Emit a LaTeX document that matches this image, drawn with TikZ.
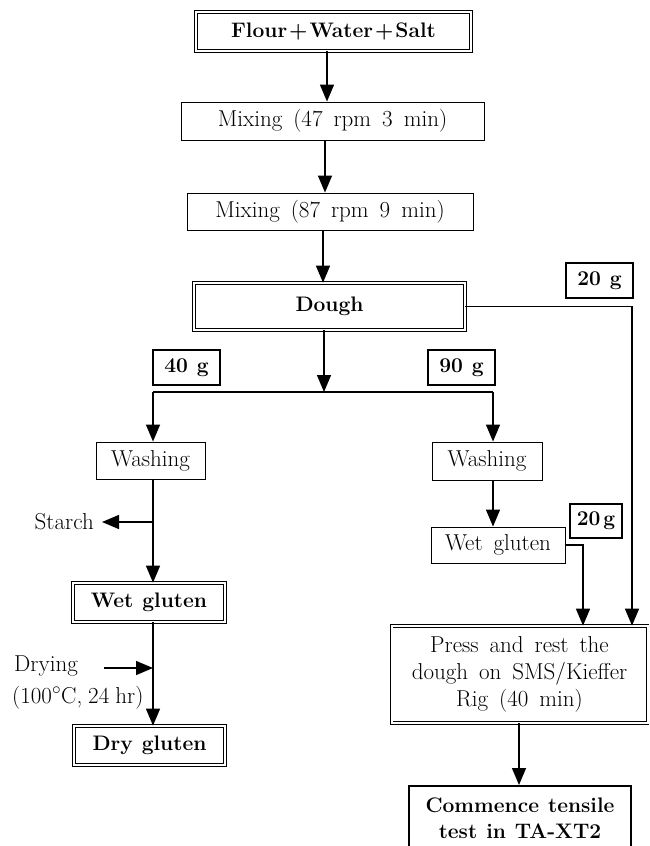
\documentclass[tikz,border=0pt]{standalone}
\usepackage{fontspec}
\usetikzlibrary{arrows.meta,calc}
\newcommand\bigtxt{\fontsize{23}{27}\selectfont}
\newcommand\bftxt{\fontsize{21}{26}\selectfont\bfseries}
\begin{document}
\begin{tikzpicture}[x=1pt,y=-1pt,
  base/.style={font={\bigtxt\spaceskip=11pt plus 2pt\relax}, inner sep=0pt, align=center},
  bf/.style={font={\bftxt\spaceskip=9pt plus 2pt\relax}},
  box/.style={base, draw, line width=0.9pt},
  dbox/.style={base, draw, double, double distance=2pt, line width=0.7pt},
  gbox/.style={base, bf, draw, line width=1.3pt},
  arr/.style={line width=1.4pt, -{Triangle[width=14pt,length=17pt]}},
  ln/.style={line width=1.4pt}
]
\useasboundingbox (0,0) rectangle (650,846);

% nodes
\node[dbox, bf, minimum width=275pt, minimum height=39pt] (flour) at (333.5,31.5) {Flour\kern2pt+\kern2pt Water\kern2pt+\kern2pt Salt};
\node[box, minimum width=303pt, minimum height=38pt] (mix1) at (332.5,121) {Mixing (47 rpm 3 min)};
\node[box, minimum width=286pt, minimum height=37pt] (mix2) at (330,211.5) {Mixing (87 rpm 9 min)};
\node[dbox, bf, minimum width=271pt, minimum height=47pt] (dough) at (329.5,306.5) {Dough};
\node[gbox, minimum width=67pt, minimum height=35pt] (g20a) at (599.5,280.5) {20 g};
\node[gbox, minimum width=67pt, minimum height=35pt] (g40) at (186.5,367.5) {40 g};
\node[gbox, minimum width=67pt, minimum height=35pt] (g90) at (461.5,367.5) {90 g};
\node[box, minimum width=109pt, minimum height=37pt] (washL) at (150.5,460.5) {Washing};
\node[box, minimum width=110pt, minimum height=38pt] (washR) at (487,461) {Washing};
\node[box, minimum width=134pt, minimum height=36pt] (wetR) at (498,545) {Wet gluten};
\node[gbox, minimum width=52pt, minimum height=34pt] (g20b) at (596,521) {20\kern3pt g};
\node[base, anchor=east] (starch) at (94,522) {Starch};
\node[dbox, bf, minimum width=152pt, minimum height=39pt] (wetL) at (149,602.5) {Wet gluten};
\node[base, anchor=west] (drying) at (14,666) {Drying};
\node[base, anchor=west] (dryingb) at (12,698) {\spaceskip=6pt plus 2pt\relax (100$^{\circ}$C, 24 hr)};
\node[dbox, bf, minimum width=151pt, minimum height=39pt] (dryL) at (149.5,745.5) {Dry gluten};
\node[dbox, minimum width=256pt, minimum height=97pt] (press) at (519.5,674.5) {Press and rest the\\dough on SMS/Kieffer\\Rig (40 min)};
\node[base, bf, draw, line width=2pt, minimum width=222pt, minimum height=64pt, anchor=north] (comm) at (520,785) {Commence tensile\\test in TA-XT2};

% coordinates
\coordinate (c1) at (327,0);
\coordinate (c2) at (325,0);
\coordinate (c3) at (323,0);
\coordinate (split) at (324,392);
\coordinate (splitL) at (153,392);
\coordinate (splitR) at (493,392);
\coordinate (colR) at (632,0);
\coordinate (colM) at (583,0);
\coordinate (stP) at (153,522);
\coordinate (dA) at (104,668);
\coordinate (dB) at (153,668);
\coordinate (c4) at (519,0);

% connectors
\draw[arr] (flour.south -| c1) -- (mix1.north -| c1);
\draw[arr] (mix1.south -| c2) -- (mix2.north -| c2);
\draw[arr] (mix2.south -| c3) -- (dough.north -| c3);
\draw[arr] (dough.south -| split) -- (split);
\draw[ln] (splitL) -- (splitR);
\draw[arr] (splitL) -- (washL.north -| splitL);
\draw[arr] (splitR) -- (washR.north -| splitR);
\draw[arr] (washR.south -| splitR) -- (wetR.north -| splitR);
\draw[arr] (dough.east) -| (press.north -| colR);
\draw[arr] (wetR.east) -| (press.north -| colM);
\draw[arr] (washL.south -| splitL) -- (wetL.north -| splitL);
\draw[arr, shorten >=8pt] (stP) -- (starch.east);
\draw[arr] (wetL.south -| splitL) -- (dryL.north -| splitL);
\draw[arr] (dA) -- (dB);
\draw[arr] (press.south -| c4) -- (comm.north -| c4);
\end{tikzpicture}
\end{document}
